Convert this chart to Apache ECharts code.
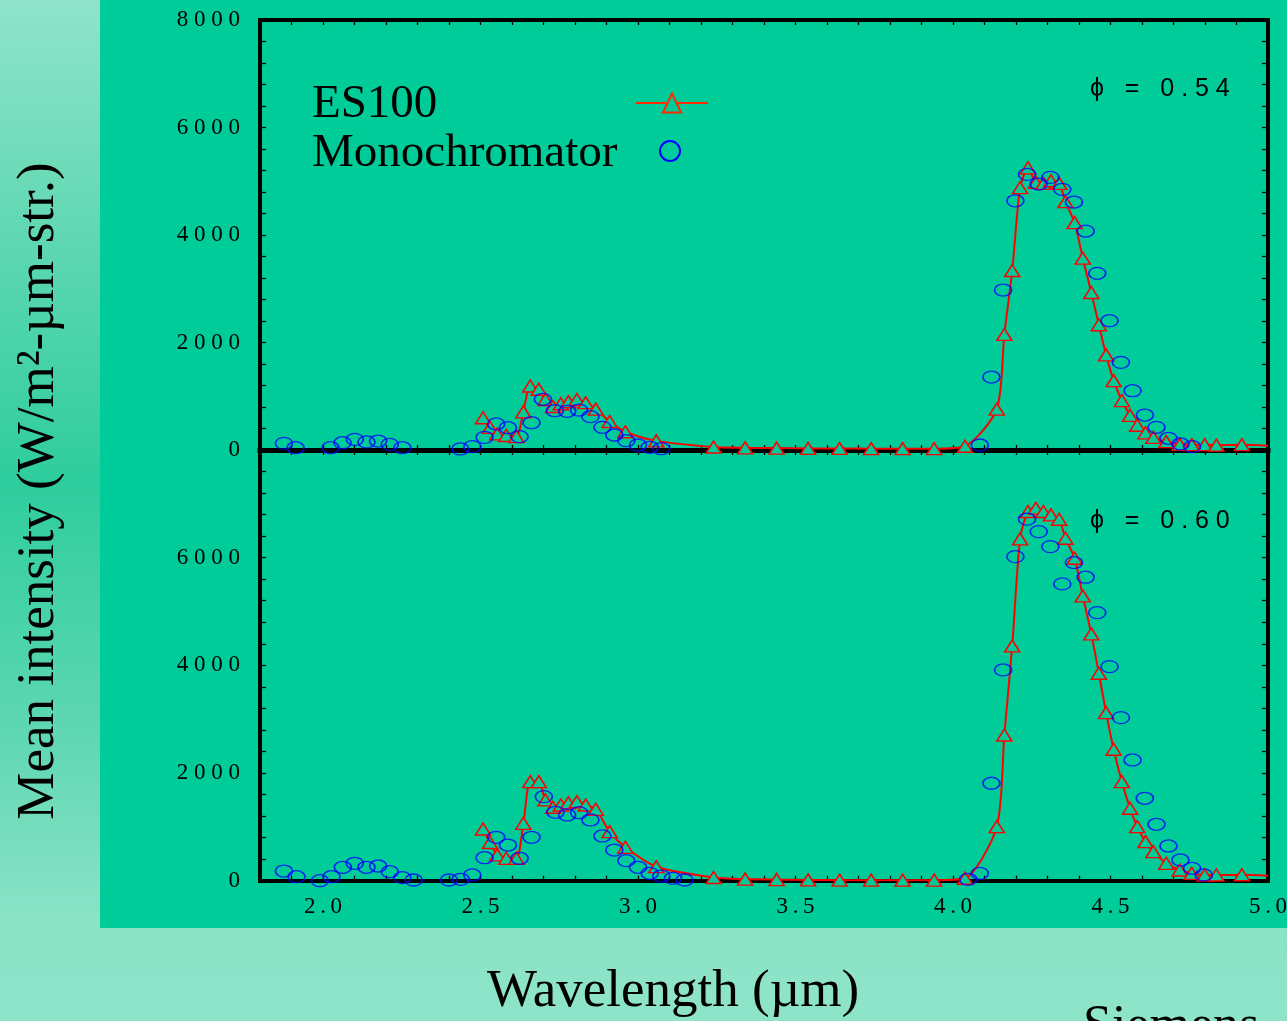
<!DOCTYPE html>
<html>
<head>
<meta charset="utf-8">
<title>Mean intensity vs wavelength</title>
<script src="https://cdn.jsdelivr.net/npm/echarts@6.0.0/dist/echarts.min.js"></script>
<style>
  html, body { margin: 0; padding: 0; }
  #chart {
    width: 1287px;
    height: 1021px;
    background: linear-gradient(to bottom, #8fe4c9 0%, #62d8b3 22%, #2ecd9d 47%, #5fd7b2 72%, #8ae3c6 90%, #8ee4c9 100%);
  }
</style>
</head>
<body>
<div id="chart"></div>
<script>
// ES100 spectrometer (red triangles + line), shared wavelengths for both panels
var esWave = [2.508, 2.530, 2.553, 2.582, 2.614, 2.636, 2.658, 2.685, 2.706, 2.730,
              2.755, 2.779, 2.806, 2.834, 2.866, 2.910, 2.960, 3.058, 3.24, 3.34,
              3.44, 3.54, 3.64, 3.74, 3.84, 3.94, 4.038, 4.139, 4.163, 4.188,
              4.213, 4.238, 4.263, 4.287, 4.311, 4.337, 4.357, 4.386, 4.412, 4.439,
              4.463, 4.486, 4.510, 4.536, 4.562, 4.585, 4.611, 4.636, 4.677, 4.720,
              4.758, 4.799, 4.836, 4.917, 5.0];
var esTop = [600, 420, 300, 270, 250, 710, 1190, 1130, 940, 810,
             860, 900, 940, 880, 760, 530, 340, 170, 55, 40,
             35, 30, 30, 25, 25, 25, 70, 760, 2150, 3340,
             4880, 5250, 4980, 4960, 5010, 4960, 4620, 4230, 3570, 2930,
             2330, 1770, 1290, 920, 645, 460, 320, 235, 155, 105,
             100, 100, 90, 100, 80];
var esBot = [960, 710, 480, 416, 416, 1066, 1840, 1840, 1500, 1364,
             1406, 1449, 1468, 1406, 1326, 911, 620, 260, 60, 30,
             20, 15, 10, 10, 10, 10, 45, 1003, 2707, 4361,
             6350, 6857, 6919, 6857, 6795, 6714, 6361, 5990, 5290, 4584,
             3853, 3122, 2441, 1840, 1345, 1003, 725, 539, 323, 199,
             137, 106, 106, 110, 90];

// Monochromator (blue circles)
var monoTopWave = [1.876, 1.913, 2.024, 2.062, 2.101, 2.138, 2.175, 2.212, 2.252,
                   2.436, 2.474, 2.513, 2.550, 2.587, 2.624, 2.662, 2.698, 2.736, 2.775,
                   2.813, 2.849, 2.887, 2.925, 2.963, 3.000, 3.037, 3.074,
                   4.085, 4.122, 4.159, 4.198, 4.235, 4.272, 4.309, 4.347, 4.384, 4.421,
                   4.458, 4.497, 4.533, 4.570, 4.609, 4.646, 4.684, 4.722, 4.759];
var monoTop = [124, 43, 43, 136, 198, 149, 167, 105, 43,
               19, 62, 235, 484, 415, 248, 508, 943, 731, 720,
               744, 620, 422, 279, 173, 93, 50, 24,
               93, 1358, 2976, 4637, 5128, 4948, 5072, 4849, 4613, 4073,
               3287, 2405, 1631, 1103, 651, 422, 218, 112, 62];
var monoBotWave = [1.876, 1.916, 1.990, 2.027, 2.063, 2.101, 2.138, 2.175, 2.212, 2.252, 2.288,
                   2.400, 2.437, 2.474, 2.513, 2.550, 2.587, 2.624, 2.662, 2.701, 2.738,
                   2.775, 2.813, 2.849, 2.887, 2.925, 2.963, 3.000, 3.037, 3.074, 3.111, 3.148,
                   4.048, 4.085, 4.122, 4.159, 4.198, 4.235, 4.272, 4.309, 4.347, 4.384,
                   4.421, 4.458, 4.497, 4.533, 4.570, 4.609, 4.646, 4.684, 4.722, 4.759, 4.796];
var monoBot = [180, 74, 0, 74, 249, 323, 249, 273, 167, 56, 13,
               13, 26, 106, 427, 806, 663, 416, 806, 1561, 1271,
               1221, 1263, 1128, 831, 570, 372, 249, 137, 87, 45, 13,
               26, 137, 1810, 3915, 6020, 6715, 6484, 6206, 5513, 5909,
               5637, 4980, 3976, 3029, 2243, 1531, 1048, 645, 385, 230, 106];

var phiLabels = ['ϕ   =   0 . 5 4', 'ϕ   =   0 . 6 0'];
var legendNames = ['ES100', 'Monochromator'];

var serif = '"Liberation Serif", "Times New Roman", serif';
var sans = '"Liberation Sans", "DejaVu Sans", sans-serif';
var GREEN = '#00cc99';

function pairs(xs, ys) {
  return xs.map(function (x, i) { return [x, ys[i]]; });
}

function xAxisFor(g, pos, showLabel, lineW) {
  return {
    gridIndex: g, type: 'value', position: pos,
    min: 1.8, max: 5.0, interval: 0.1,
    axisLine: { show: true, onZero: false, lineStyle: { color: '#000', width: lineW, cap: 'square' } },
    axisTick: { show: true, inside: true, length: 5, lineStyle: { color: '#000', width: 1.3 } },
    axisLabel: {
      show: showLabel, margin: 15, color: '#000', fontFamily: serif, fontSize: 23,
      formatter: function (v) {
        var r = Math.round(v * 10);
        if (r % 5 !== 0) return '';
        return (r / 10).toFixed(1).split('').join('\u2009');
      }
    },
    splitLine: { show: false }
  };
}

function yAxisFor(g, pos, showLabel, showMax) {
  return {
    gridIndex: g, type: 'value', position: pos,
    min: 0, max: 8000, interval: 2000,
    axisLine: { show: true, onZero: false, lineStyle: { color: '#000', width: 4, cap: 'square' } },
    axisTick: { show: true, inside: true, length: 6, lineStyle: { color: '#000', width: 1.3 } },
    minorTick: { show: true, splitNumber: 5, length: 6, lineStyle: { color: '#000', width: 1.3 } },
    axisLabel: {
      show: showLabel, margin: 20, color: '#000', fontFamily: serif, fontSize: 23,
      showMaxLabel: showMax,
      formatter: function (v) { return String(v).split('').join(' '); }
    },
    splitLine: { show: false },
    minorSplitLine: { show: false }
  };
}

function esSeries(g, vals) {
  return {
    type: 'line', xAxisIndex: g * 2, yAxisIndex: g * 2,
    data: pairs(esWave, vals),
    smooth: 0.25,
    symbol: function (v) { return v[0] >= 4.99 ? 'none' : 'triangle'; },
    symbolSize: [15, 12],
    showAllSymbol: true,
    lineStyle: { color: '#ff0000', width: 2 },
    itemStyle: { color: GREEN, borderColor: '#ff0000', borderWidth: 1.5 },
    z: 3
  };
}

function monoSeries(g, xs, vals) {
  return {
    type: 'scatter', xAxisIndex: g * 2, yAxisIndex: g * 2,
    data: pairs(xs, vals),
    symbol: 'circle',
    symbolSize: [17, 12],
    itemStyle: { color: 'rgba(0,0,0,0)', borderColor: '#0000ff', borderWidth: 1.5 },
    z: 4
  };
}

var chart = echarts.init(document.getElementById('chart'), null, { renderer: 'canvas' });

var option = {
  backgroundColor: 'transparent',
  animation: false,
  grid: [
    { left: 260, top: 20, width: 1008, height: 430, containLabel: false, outerBoundsMode: 'none' },
    { left: 260, top: 450, width: 1008, height: 430.7, containLabel: false, outerBoundsMode: 'none' }
  ],
  xAxis: [
    xAxisFor(0, 'bottom', false, 5),
    xAxisFor(0, 'top', false, 4),
    xAxisFor(1, 'bottom', true, 4),
    xAxisFor(1, 'top', false, 4)
  ],
  yAxis: [
    yAxisFor(0, 'left', true, true),
    yAxisFor(0, 'right', false, true),
    yAxisFor(1, 'left', true, false),
    yAxisFor(1, 'right', false, false)
  ],
  series: [
    esSeries(0, esTop),
    monoSeries(0, monoTopWave, monoTop),
    esSeries(1, esBot),
    monoSeries(1, monoBotWave, monoBot)
  ],
  graphic: [
    // green slide panel
    { type: 'rect', z: -100, silent: true, shape: { x: 100, y: 0, width: 1187, height: 928 }, style: { fill: GREEN } },
    // legend
    { type: 'text', z: 10, style: { text: legendNames[0], x: 312, y: 105, fill: '#000', fontFamily: serif, fontSize: 47, align: 'left', verticalAlign: 'middle' } },
    { type: 'text', z: 10, style: { text: legendNames[1], x: 312, y: 154, fill: '#000', fontFamily: serif, fontSize: 47, align: 'left', verticalAlign: 'middle' } },
    { type: 'line', z: 10, shape: { x1: 636, y1: 103, x2: 708, y2: 103 }, style: { stroke: '#ff2a00', lineWidth: 2 } },
    { type: 'polygon', z: 11, shape: { points: [[672, 93.5], [681, 112.5], [663, 112.5]] }, style: { fill: GREEN, stroke: '#ff2a00', lineWidth: 2 } },
    { type: 'circle', z: 10, shape: { cx: 670, cy: 151, r: 10 }, style: { fill: 'none', stroke: '#0000ff', lineWidth: 2 } },
    // phi annotations
    { type: 'text', z: 10, style: { text: phiLabels[0], x: 1090, y: 89, fill: '#000', fontFamily: sans, fontSize: 25, align: 'left', verticalAlign: 'middle' } },
    { type: 'text', z: 10, style: { text: phiLabels[1], x: 1090, y: 521, fill: '#000', fontFamily: sans, fontSize: 25, align: 'left', verticalAlign: 'middle' } },
    // axis titles
    { type: 'text', z: 10, x: 39, y: 491, rotation: Math.PI / 2,
      style: { text: 'Mean intensity (W/m\u00b2-\u00b5m-str.)', x: 0, y: 0, fill: '#000', fontFamily: serif, fontSize: 53, align: 'center', verticalAlign: 'middle' } },
    { type: 'text', z: 10, style: { text: 'Wavelength (\u00b5m)', x: 673, y: 992, fill: '#000', fontFamily: serif, fontSize: 53, align: 'center', verticalAlign: 'middle' } },
    { type: 'text', z: 10, style: { text: 'Siemens', x: 1083, y: 1027, fill: '#000', fontFamily: serif, fontSize: 52, align: 'left', verticalAlign: 'middle' } }
  ]
};

chart.setOption(option);
</script>
</body>
</html>
